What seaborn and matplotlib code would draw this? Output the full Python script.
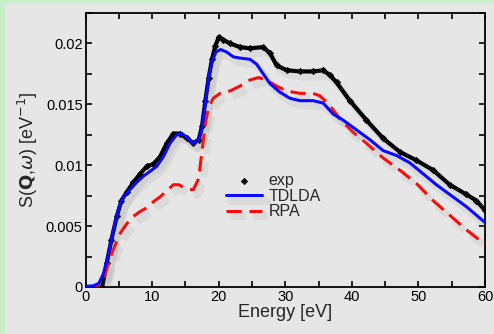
import numpy as np
import pandas as pd
import matplotlib
matplotlib.use("Agg")
import matplotlib.pyplot as plt
import matplotlib.patheffects as pe
from matplotlib.patches import Rectangle
from matplotlib.ticker import MultipleLocator
import seaborn as sns

# experimental points (energy in eV, S(Q,w) in 1/eV)
exp_energy = [2.5, 3.2, 3.9, 4.7, 5.4, 6.2, 7.2, 8.2, 9.2, 10.2, 11.2, 12.2, 13.2,
              14.2, 15.2, 16.2, 17.0, 17.5, 18.0, 18.5, 19.0, 19.5, 20.0, 20.7,
              21.7, 23.2, 24.7, 26.7, 27.7, 28.7, 30.2, 32.2, 34.2, 35.7, 36.7,
              37.7, 39.7, 42.2, 44.7, 47.2, 49.7, 52.2, 54.7, 57.2, 58.7, 60.0]
exp_s = [0.0, 0.0020, 0.0039, 0.0058, 0.0071, 0.0078, 0.0086, 0.0093, 0.0099,
         0.0101, 0.0107, 0.0118, 0.0126, 0.0126, 0.0122, 0.0118, 0.0121, 0.0132,
         0.0153, 0.0172, 0.0187, 0.0198, 0.0205, 0.0203, 0.0200, 0.0197, 0.0196,
         0.0197, 0.0192, 0.0182, 0.0178, 0.0177, 0.0177, 0.0178, 0.0174, 0.0168,
         0.0153, 0.0137, 0.0122, 0.0111, 0.0104, 0.0096, 0.0084, 0.0076, 0.0071,
         0.0063]

tdlda_energy = [0.0, 1.2, 2.0, 2.7, 3.5, 4.2, 5.0, 5.7, 6.7, 7.7, 8.7, 9.7, 10.7,
                11.7, 12.7, 13.7, 14.5, 15.2, 16.2, 17.0, 17.5, 18.0, 18.5, 19.0,
                19.6, 20.3, 21.2, 22.2, 23.2, 24.7, 25.7, 26.7, 27.7, 29.2, 30.7,
                32.2, 34.2, 35.7, 37.2, 38.7, 40.7, 42.7, 44.7, 46.7, 48.7, 50.7,
                52.7, 54.7, 57.2, 60.0]
tdlda_s = [0.00005, 0.0001, 0.0003, 0.0011, 0.0028, 0.0047, 0.0065, 0.0074,
           0.0080, 0.0086, 0.0091, 0.0095, 0.0099, 0.0107, 0.0118, 0.0125, 0.0126,
           0.0123, 0.0118, 0.0121, 0.0130, 0.0151, 0.0172, 0.0185, 0.0193, 0.0195,
           0.0193, 0.0189, 0.0188, 0.0187, 0.0183, 0.0175, 0.0167, 0.0160, 0.0155,
           0.0153, 0.0153, 0.0151, 0.0142, 0.0137, 0.0129, 0.0121, 0.0112, 0.0108,
           0.0102, 0.0093, 0.0084, 0.0076, 0.0066, 0.0053]

rpa_energy = [0.0, 1.5, 2.2, 3.0, 3.7, 4.5, 5.2, 6.2, 7.2, 8.2, 9.2, 10.2, 11.2,
              12.2, 13.2, 14.0, 14.7, 15.5, 16.2, 17.0, 17.5, 18.0, 18.5, 19.2,
              20.2, 21.7, 23.2, 24.7, 26.0, 27.2, 28.7, 30.2, 32.2, 34.2, 35.2,
              36.7, 38.2, 40.2, 42.2, 44.7, 47.2, 49.7, 52.2, 54.7, 57.2, 60.0]
rpa_s = [0.0, 0.0, 0.0003, 0.0011, 0.0024, 0.0035, 0.0044, 0.0052, 0.0058,
         0.0062, 0.0065, 0.0070, 0.0074, 0.0079, 0.0084, 0.0084, 0.0082, 0.0080,
         0.0080, 0.0089, 0.0112, 0.0134, 0.0148, 0.0155, 0.0159, 0.0161, 0.0165,
         0.0170, 0.0172, 0.0170, 0.0165, 0.0161, 0.0159, 0.0159, 0.0157, 0.0149,
         0.0138, 0.0127, 0.0118, 0.0106, 0.0096, 0.0085, 0.0071, 0.0059, 0.0047,
         0.0035]

sns.set_theme(style="ticks")
plt.rcParams['font.family'] = ['Liberation Sans', 'DejaVu Sans']
plt.rcParams['mathtext.fontset'] = 'dejavusans'

fig = plt.figure(figsize=(4.94, 3.34), dpi=100)
fig.patch.set_facecolor('#c8f0c8')
# grey page background inside the green border
fig.patches.append(Rectangle((5 / 494, 0), 1, 1 - 4 / 334, transform=fig.transFigure,
                             facecolor='#e6e6e6', edgecolor='none', zorder=-10))

ax = fig.add_axes([85.5 / 494, 47 / 334, 399.5 / 494, 274 / 334])
ax.set_facecolor('none')

shadow = [pe.SimpleLineShadow(offset=(3, -4), shadow_color='#888888', alpha=0.12,
                              linewidth=5), pe.Normal()]

exp_df = pd.DataFrame({'Energy': exp_energy, 'S': exp_s})
tdlda_df = pd.DataFrame({'Energy': tdlda_energy, 'S': tdlda_s})
rpa_df = pd.DataFrame({'Energy': rpa_energy, 'S': rpa_s})

sns.lineplot(data=exp_df, x='Energy', y='S', ax=ax, color='black', lw=3.0,
             path_effects=shadow, zorder=3)
sns.scatterplot(data=exp_df, x='Energy', y='S', ax=ax, color='black', marker='D',
                s=12, edgecolor='black', label='exp', zorder=4)
sns.lineplot(data=tdlda_df, x='Energy', y='S', ax=ax, color='#0a0aff', lw=2.2,
             path_effects=shadow, label='TDLDA', zorder=5)
sns.lineplot(data=rpa_df, x='Energy', y='S', ax=ax, color='#ff0a0a', lw=2.2,
             dashes=(5, 2.5), path_effects=shadow, label='RPA', zorder=4)

ax.set_xlim(0, 60)
ax.set_ylim(0, 0.0225)
ax.xaxis.set_major_locator(MultipleLocator(10))
ax.xaxis.set_minor_locator(MultipleLocator(5))
ax.yaxis.set_major_locator(MultipleLocator(0.005))
ax.yaxis.set_minor_locator(MultipleLocator(0.0025))
ax.set_yticks([0, 0.005, 0.01, 0.015, 0.02])
ax.set_yticklabels(['0', '0.005', '0.01', '0.015', '0.02'])
ax.tick_params(which='both', direction='in', top=True, right=True, length=4.5,
               width=1.2, labelsize=10.5, colors='black', pad=2)
for sp in ax.spines.values():
    sp.set_linewidth(1.3)
    sp.set_color('black')

ax.set_xlabel('Energy [eV]', fontsize=13, labelpad=0)
ax.set_ylabel(r'S($\mathbf{Q}$,$\omega$) [eV$^{-1}$]', fontsize=13, labelpad=4)

ax.legend(loc='upper left', bbox_to_anchor=(0.335, 0.44), frameon=False,
          fontsize=11.5, handlelength=2.3, handletextpad=0.4, labelspacing=0.05,
          borderaxespad=0)

fig.savefig('out.png', dpi=100, facecolor=fig.get_facecolor())
